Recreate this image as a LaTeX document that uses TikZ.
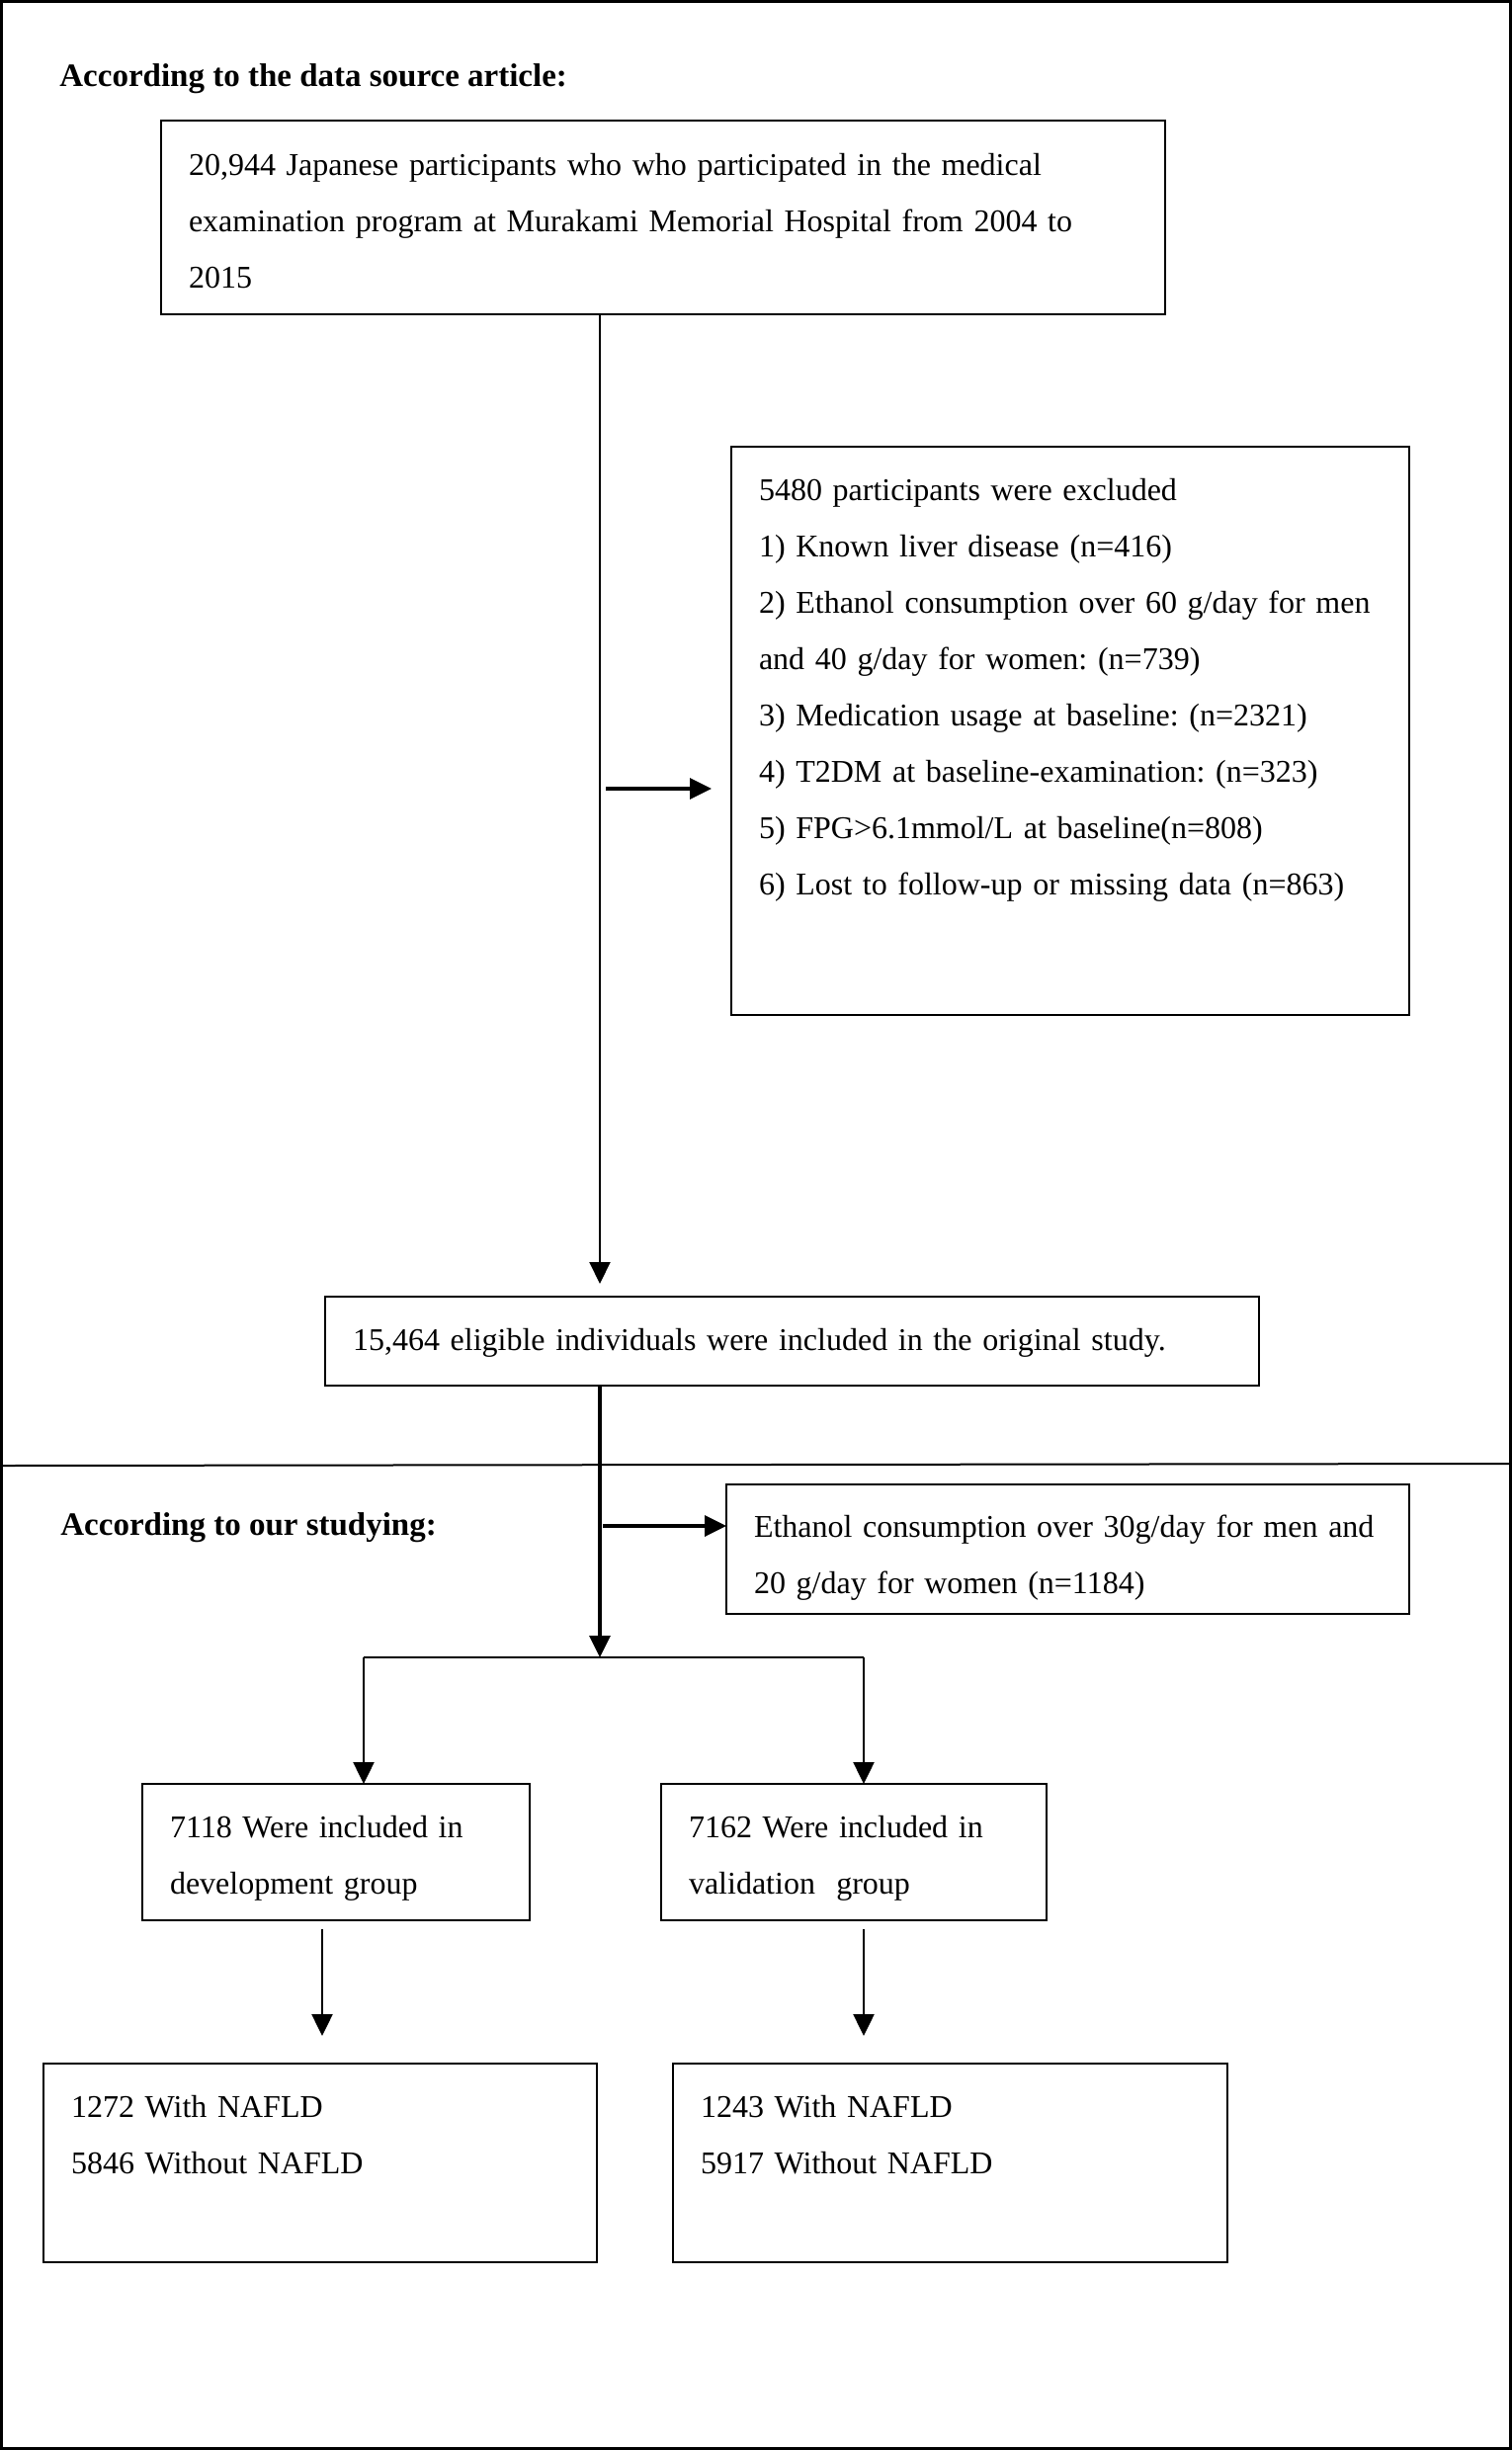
\documentclass[tikz,border=0pt]{standalone}
\usepackage{fontspec}
\setmainfont{Liberation Serif}
\frenchspacing
\usetikzlibrary{arrows.meta}
\tikzstyle{line} = [draw, line width=1.2pt, -{Triangle[length=11pt,width=10.5pt]}]
\tikzstyle{flowbox} = [rectangle, draw=black, line width=0.6pt, anchor=north west, align=left, inner xsep=14pt, inner ysep=0pt, outer sep=0pt, font=\fontsize{16pt}{28.5pt}\selectfont]
\tikzstyle{heading} = [anchor=base west, inner sep=0pt, font=\fontsize{16.5pt}{18pt}\selectfont\bfseries]

\begin{document}
\begin{tikzpicture}[x=1pt, y=-1pt]
	\def\W{765}
	\def\H{1239.5}
	\useasboundingbox (0,0) rectangle (\W,\H);
	\draw[line width=1.5pt] (0.75,0.75) rectangle (\W-0.75,\H-0.75);
	\draw[line width=1pt] (0,741.5) -- (\W,740.5);
	
	\node[heading] (head1) at (30, 43.5) {According to the data source article:};
	\node[heading] (head2) at (30.5, 776.5) {According to our studying:};
	
	\node[flowbox, text width=480pt, text height=27.5pt, text depth=70.5pt] (source) at (81.5, 61) {20,944 Japanese participants who who participated in the medical\\ examination program at Murakami Memorial Hospital from 2004 to\\ 2015};
	\node[flowbox, text width=315pt, text height=27pt, text depth=260.5pt] (excl1) at (370, 226) {5480 participants were excluded\\ 1) Known liver disease (n=416)\\ 2) Ethanol consumption over 60 g/day for men\\ and 40 g/day for women: (n=739)\\ 3) Medication usage at baseline: (n=2321)\\ 4) T2DM at baseline-examination: (n=323)\\ 5) FPG>6.1mmol/L at baseline(n=808)\\ 6) Lost to follow-up or missing data (n=863)};
	\node[flowbox, text width=444.5pt, text height=27pt, text depth=18pt] (eligible) at (164.5, 656) {15,464 eligible individuals were included in the original study.};
	\node[flowbox, text width=317.5pt, text height=26.5pt, text depth=39pt] (excl2) at (367.5, 751) {Ethanol consumption over 30g/day for men and\\ 20 g/day for women (n=1184)};
	\node[flowbox, text width=168pt, text height=27pt, text depth=42pt] (devgrp) at (72, 902.5) {7118 Were included in\\ development group};
	\node[flowbox, text width=167pt, text height=27pt, text depth=42pt] (valgrp) at (334.5, 902.5) {7162 Were included in\\ validation~ group};
	\node[flowbox, text width=252pt, text height=27pt, text depth=73.5pt] (devres) at (22, 1044) {1272 With NAFLD\\ 5846 Without NAFLD};
	\node[flowbox, text width=252.5pt, text height=27pt, text depth=73.5pt] (valres) at (340.5, 1044) {1243 With NAFLD\\ 5917 Without NAFLD};
	
	\coordinate (trunk) at (303.5, 0);
	\coordinate (exA) at (306.5, 399);
	\coordinate (exB) at (305, 772);
	\coordinate (split) at (303.5, 838.5);
	\coordinate (splitL) at (184, 838.5);
	\coordinate (splitR) at (437, 838.5);
	\coordinate (devcol) at (163, 0);
	
	\path [line, line width=1pt, shorten >=6.5pt] (source.south -| trunk) -- (eligible.north -| trunk);
	\path [line, line width=1.7pt, shorten >=10pt] (exA) -- (exA -| excl1.west);
	\path [line, line width=1.6pt] (eligible.south -| trunk) -- (split);
	\path [line, line width=1.7pt] (exB) -- (exB -| excl2.west);
	\draw[line width=1pt] (splitL) -- (splitR);
	\path [line] (splitL) -- (splitL |- devgrp.north);
	\path [line] (splitR) -- (splitR |- valgrp.north);
	\path [line, shorten <=4.5pt, shorten >=14pt] (devgrp.south -| devcol) -- (devres.north -| devcol);
	\path [line, shorten <=4.5pt, shorten >=14pt] (valgrp.south -| splitR) -- (valres.north -| splitR);
\end{tikzpicture}
\end{document}
